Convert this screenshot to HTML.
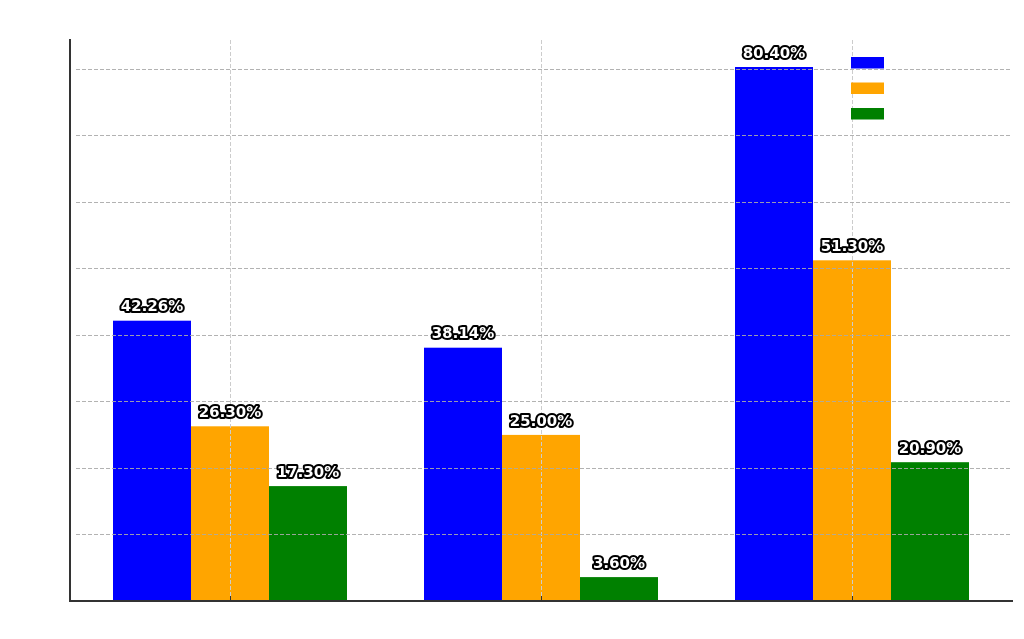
<!DOCTYPE html>
<html><head><meta charset="utf-8"><style>
html,body{margin:0;padding:0;background:#fff;}
svg{display:block;}
.lbl{font-family:"DejaVu Sans","Liberation Sans",sans-serif;font-weight:bold;font-size:15px;fill:#fff;stroke:#000;stroke-width:4px;paint-order:stroke;stroke-linejoin:round;text-anchor:middle;}
</style></head><body>
<svg width="1024" height="639" viewBox="0 0 1024 639" xmlns="http://www.w3.org/2000/svg">
<rect width="1024" height="639" fill="#fff"/>
<!-- bars -->
<rect x="113" y="320.7" width="78" height="280.3" fill="#0000ff"/>
<rect x="191" y="426.3" width="78" height="174.7" fill="#ffa500"/>
<rect x="269" y="486.1" width="78" height="114.9" fill="#008000"/>
<rect x="424" y="347.7" width="78" height="253.3" fill="#0000ff"/>
<rect x="502" y="434.9" width="78" height="166.1" fill="#ffa500"/>
<rect x="580" y="577.1" width="78" height="23.9" fill="#008000"/>
<rect x="735" y="67" width="78" height="534" fill="#0000ff"/>
<rect x="813" y="260.3" width="78" height="340.7" fill="#ffa500"/>
<rect x="891" y="462.2" width="78" height="138.8" fill="#008000"/>
<!-- vertical grid -->
<g stroke="#cccccc" stroke-width="1" stroke-dasharray="4,2">
<line x1="230.5" y1="40" x2="230.5" y2="601"/>
<line x1="541.5" y1="40" x2="541.5" y2="601"/>
<line x1="852.5" y1="40" x2="852.5" y2="601"/>
</g>
<!-- horizontal grid -->
<g stroke="#aaaaaa" stroke-width="1" stroke-dasharray="4,2" opacity="0.9">
<line x1="76" y1="534.5" x2="1012" y2="534.5"/>
<line x1="76" y1="468.5" x2="1012" y2="468.5"/>
<line x1="76" y1="401.5" x2="1012" y2="401.5"/>
<line x1="76" y1="335.5" x2="1012" y2="335.5"/>
<line x1="76" y1="268.5" x2="1012" y2="268.5"/>
<line x1="76" y1="202.5" x2="1012" y2="202.5"/>
<line x1="76" y1="135.5" x2="1012" y2="135.5"/>
<line x1="76" y1="69.5" x2="1012" y2="69.5"/>
</g>
<!-- spines -->
<line x1="70" y1="39" x2="70" y2="602" stroke="#333" stroke-width="2"/>
<line x1="69" y1="601" x2="1013" y2="601" stroke="#333" stroke-width="2"/>
<!-- ticks -->
<g stroke="#333" stroke-width="1">
<line x1="230.5" y1="601" x2="230.5" y2="596"/>
<line x1="541.5" y1="601" x2="541.5" y2="596"/>
<line x1="852.5" y1="601" x2="852.5" y2="596"/>
</g>
<!-- legend -->
<rect x="851" y="57" width="33" height="11.5" fill="#0000ff"/>
<rect x="851" y="82.5" width="33" height="11.5" fill="#ffa500"/>
<rect x="851" y="108" width="33" height="11.5" fill="#008000"/>
<!-- labels -->
<text class="lbl" x="152" y="311">42.26%</text>
<text class="lbl" x="230" y="417">26.30%</text>
<text class="lbl" x="308" y="477">17.30%</text>
<text class="lbl" x="463" y="338">38.14%</text>
<text class="lbl" x="541" y="426">25.00%</text>
<text class="lbl" x="619" y="568">3.60%</text>
<text class="lbl" x="774" y="58">80.40%</text>
<text class="lbl" x="852" y="251">51.30%</text>
<text class="lbl" x="930" y="453">20.90%</text>
</svg>
</body></html>
